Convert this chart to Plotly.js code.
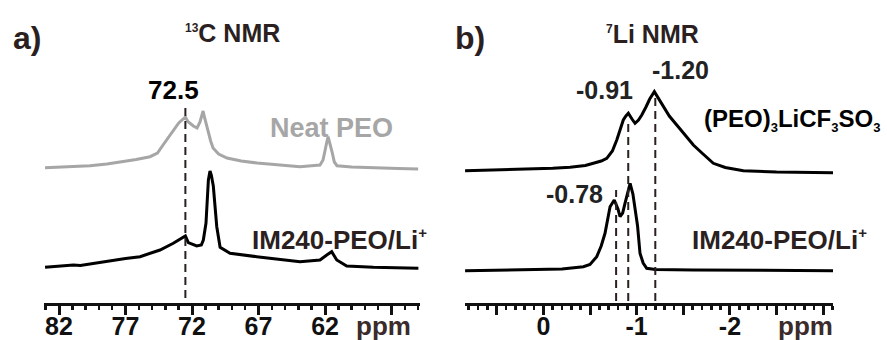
<!DOCTYPE html>
<html>
<head>
<meta charset="utf-8">
<script src="https://cdn.plot.ly/plotly-3.0.1.min.js"></script>
<style>html,body{margin:0;padding:0;background:#fff;}#chart{width:887px;height:340px;}</style>
</head>
<body>
<div id="chart"></div>
<script>
// ---- 13C NMR (panel a) ----
const c13NeatPpm = [83.05,81.5,79.67,78.4,77.19,76.2,75.16,74.6,74.18,73.8,73.43,73.0,72.5,72.3,71.9,71.62,71.4,71.25,71.17,71.05,70.87,70.6,70.42,70.0,69.37,68.3,67.11,65.5,63.88,62.8,62.38,62.15,62.0,61.85,61.77,61.65,61.47,61.3,61.1,60.0,58.39,56.5,55.0];
const c13NeatInt = [0.3,1.3,2.3,4,6.3,8.5,11.3,15,23,30,38,45,51,46.3,42,40,46,53,57,50,40,27,20,14,10,7,5,3,1.3,2.5,3,8,16,27,31.3,26,16,6,2.3,1,0,-0.5,-1];
const c13ImPpm = [83.05,81.5,80.92,80.4,78.41,77.0,75.91,74.41,73.41,72.9,72.5,72.28,71.65,71.3,71.15,70.95,70.85,70.77,70.65,70.55,70.4,70.25,70.14,69.89,69.14,67.14,65.5,63.88,62.38,62.1,61.87,61.5,61.12,60.37,58.37,54.98];
const c13ImInt = [0.7,2,3,2.5,7,9.5,11.3,18,24.7,28.5,32,25.3,22,23,28,45,70,88,97,93,82,60,41.3,20.7,14.7,11.3,8.5,6.3,8,11,13,16.3,8,2,0.7,-0.3];
const c13Marks = [72.5];
const c13TickVals = [82,77,72,67,62,57];
const c13TickText = ['82','77','72','67','62',''];

// ---- 7Li NMR (panel b) ----
const liSaltPpm = [0.839,0.5,0.178,-0.1,-0.286,-0.45,-0.536,-0.62,-0.68,-0.74,-0.787,-0.83,-0.857,-0.885,-0.911,-0.95,-0.983,-1.02,-1.055,-1.1,-1.14,-1.19,-1.23,-1.286,-1.35,-1.43,-1.52,-1.608,-1.7,-1.822,-1.95,-2.144,-2.5,-3.108];
const liSaltInt = [0.3,1,1.7,2.7,3.7,5.5,7.7,10,12.7,20,31,43,51,55,57.7,52,47.7,51,56,64,72,79.3,73,64.3,55,46,36,26,18,7.7,3.5,0.3,-1,-1.7];
const liImPpm = [0.839,0.178,-0.2,-0.429,-0.5,-0.572,-0.62,-0.661,-0.69,-0.715,-0.76,-0.8,-0.822,-0.85,-0.875,-0.905,-0.93,-0.96,-0.983,-1.01,-1.036,-1.07,-1.108,-1.2,-1.608,-3.108];
const liImInt = [0.3,1,2,4.3,6.5,14.3,25,37.7,53,64.3,71,62,54.3,58,67.7,80,87.7,77,64.3,45,17.7,8,2.7,1.5,1,0.3];
const liMarks = [-0.78,-0.91,-1.20];
const liTickVals = [0.5,0,-0.5,-1,-1.5,-2,-2.5,-3];
const liTickText = ['','0','','-1','','-2','',''];

// stacking offsets (a.u.)
const offUpper13 = 135, offLower13 = 35, offUpperLi = 132, offLowerLi = 32;

const add = (arr, o) => arr.map(v => v + o);
const FONT = 'Liberation Sans, Arial, Helvetica, sans-serif';
const DARK = '#2b1f1f';

const traces = [
  {x: c13NeatPpm, y: add(c13NeatInt, offUpper13), xaxis: 'x', yaxis: 'y', mode: 'lines', line: {color: '#a6a6a6', width: 3}, hoverinfo: 'skip'},
  {x: c13ImPpm, y: add(c13ImInt, offLower13), xaxis: 'x', yaxis: 'y', mode: 'lines', line: {color: '#000', width: 3}, hoverinfo: 'skip'},
  {x: liSaltPpm, y: add(liSaltInt, offUpperLi), xaxis: 'x2', yaxis: 'y', mode: 'lines', line: {color: '#000', width: 3}, hoverinfo: 'skip'},
  {x: liImPpm, y: add(liImInt, offLowerLi), xaxis: 'x2', yaxis: 'y', mode: 'lines', line: {color: '#000', width: 3}, hoverinfo: 'skip'}
];

const PH = 303; // plot-area height in px
const px = x => x / 887;
const py = y => (PH - y) / PH;

function ann(text, x, y, size, color, xanchor) {
  return {text: text, x: px(x), y: py(y), xref: 'paper', yref: 'paper', showarrow: false,
    xanchor: xanchor || 'center', yanchor: 'middle',
    font: {family: FONT, size: size, color: color, weight: 'bold'}};
}
const sup = (t, s) => '<sup><span style="font-size:' + s + 'px">' + t + '</span></sup>';
const sub = (t, s) => '<sub><span style="font-size:' + s + 'px">' + t + '</span></sub>';

const annotations = [
  ann('a)', 27, 38, 32, DARK),
  ann(sup('13', 12) + 'C NMR', 232, 33, 25, DARK),
  ann('72.5', 173, 90, 26, '#000'),
  ann('Neat PEO', 331, 128, 27, '#a6a6a6'),
  ann('IM240-PEO/Li' + sup('+', 15), 250, 239, 26, DARK, 'left'),
  ann('ppm', 383, 326, 26, '#3b2b2b'),
  ann('b)', 470, 38, 32, DARK),
  ann(sup('7', 12) + 'Li NMR', 652, 34, 25, DARK),
  ann('-0.91', 604, 90, 25, '#222'),
  ann('-1.20', 680, 70, 25, '#222'),
  ann('(PEO)' + sub('3', 13) + 'LiCF' + sub('3', 13) + 'SO' + sub('3', 13), 702, 120, 24, '#000', 'left'),
  ann('-0.78', 574, 194, 25, '#222'),
  ann('IM240-PEO/Li' + sup('+', 15), 690, 239, 26, DARK, 'left'),
  ann('ppm', 805, 326, 26, '#3b2b2b')
];

const dashLine = {color: DARK, width: 2, dash: '8px,5px'};
const shapes = [
  {type: 'line', xref: 'x', yref: 'y', x0: c13Marks[0], x1: c13Marks[0], y0: 5, y1: 196, line: dashLine},
  {type: 'line', xref: 'x2', yref: 'y', x0: liMarks[0], x1: liMarks[0], y0: 2, y1: 113, line: dashLine},
  {type: 'line', xref: 'x2', yref: 'y', x0: liMarks[1], x1: liMarks[1], y0: 2, y1: 183, line: dashLine},
  {type: 'line', xref: 'x2', yref: 'y', x0: liMarks[2], x1: liMarks[2], y0: 2, y1: 208, line: dashLine}
];

function xax(domain, range, tv, tt, minorDt, minor0) {
  return {
    domain: domain, range: range, anchor: 'y', showgrid: false, zeroline: false,
    showline: true, linecolor: '#111', linewidth: 3,
    tickmode: 'array', tickvals: tv, ticktext: tt,
    ticks: 'outside', ticklen: 9, tickwidth: 3, tickcolor: '#111',
    ticklabelstandoff: -10,
    tickfont: {family: FONT, size: 25, color: '#111', weight: 'bold'},
    minor: {ticks: 'outside', ticklen: 4, tickwidth: 2.5, tickcolor: '#111', dtick: minorDt, tick0: minor0, showgrid: false},
    fixedrange: true
  };
}

const layout = {
  width: 887, height: 340,
  margin: {l: 0, r: 0, t: 0, b: 37, pad: 0},
  paper_bgcolor: '#fff', plot_bgcolor: 'rgba(0,0,0,0)',
  showlegend: false,
  xaxis: xax([44/887, 420/887], [83.13, 54.86], c13TickVals, c13TickText, 1, 82),
  xaxis2: xax([465/887, 833/887], [0.84, -3.105], liTickVals, liTickText, 0.1, 0),
  yaxis: {range: [0, PH], visible: false, fixedrange: true, domain: [0, 1]},
  annotations: annotations,
  shapes: shapes
};

Plotly.newPlot('chart', traces, layout, {staticPlot: true, displayModeBar: false});
</script>
</body>
</html>
